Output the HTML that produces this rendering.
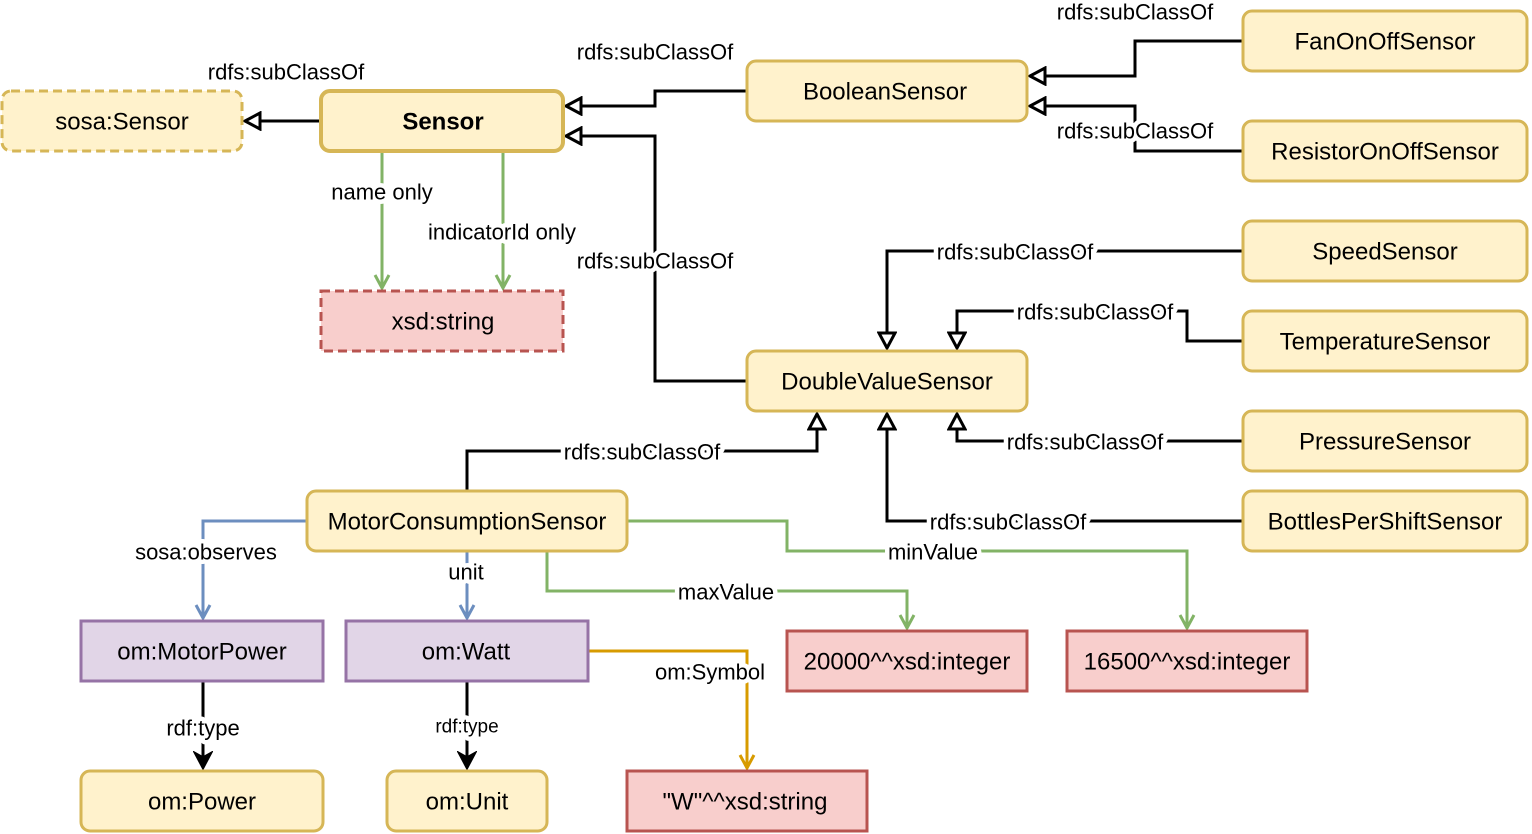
<!DOCTYPE html>
<html><head><meta charset="utf-8"><style>
html,body{margin:0;padding:0;background:#fff;}
svg{display:block;font-family:"Liberation Sans",Arial,sans-serif;}
.n{font-size:24px;text-anchor:middle;dominant-baseline:central;fill:#000;}
.l{font-size:22px;text-anchor:middle;dominant-baseline:central;fill:#000;stroke:#fff;stroke-width:9px;paint-order:stroke;stroke-linejoin:round;}
.y{fill:#fff2cc;stroke:#d6b656;stroke-width:3;}
.p{fill:#f8cecc;stroke:#b85450;stroke-width:3;}
.u{fill:#e1d5e7;stroke:#9673a6;stroke-width:3;}
.k{fill:none;stroke:#000;stroke-width:3;}
.g{fill:none;stroke:#82b366;stroke-width:3;}
.b{fill:none;stroke:#6c8ebf;stroke-width:3;}
.o{fill:none;stroke:#d79b00;stroke-width:3;}
</style></head><body>
<svg width="1532" height="834" viewBox="0 0 1532 834">
<defs>
<marker id="h" markerWidth="20" markerHeight="20" refX="17" refY="10" orient="auto" markerUnits="userSpaceOnUse">
<path d="M2,2 L17,10 L2,18 Z" fill="#fff" stroke="#000" stroke-width="3"/></marker>
<marker id="ag" markerWidth="18" markerHeight="18" refX="15" refY="9" orient="auto" markerUnits="userSpaceOnUse">
<path d="M2,2 L15,9 L2,16" fill="none" stroke="#82b366" stroke-width="3"/></marker>
<marker id="ab" markerWidth="18" markerHeight="18" refX="15" refY="9" orient="auto" markerUnits="userSpaceOnUse">
<path d="M2,2 L15,9 L2,16" fill="none" stroke="#6c8ebf" stroke-width="3"/></marker>
<marker id="ao" markerWidth="18" markerHeight="18" refX="15" refY="9" orient="auto" markerUnits="userSpaceOnUse">
<path d="M2,2 L15,9 L2,16" fill="none" stroke="#d79b00" stroke-width="3"/></marker>
<marker id="ak" markerWidth="20" markerHeight="20" refX="17" refY="10" orient="auto" markerUnits="userSpaceOnUse">
<path d="M1,1 L18,10 L1,19 L6,10 Z" fill="#000" stroke="#000" stroke-width="1.5"/></marker>
</defs>

<path class="k" d="M321,121 L245,121" marker-end="url(#h)"/>
<path class="k" d="M747,91 L655,91 L655,106 L566,106" marker-end="url(#h)"/>
<path class="k" d="M747,381 L655,381 L655,136 L566,136" marker-end="url(#h)"/>
<path class="k" d="M1243,41 L1135,41 L1135,76 L1030,76" marker-end="url(#h)"/>
<path class="k" d="M1243,151 L1135,151 L1135,106 L1030,106" marker-end="url(#h)"/>
<path class="k" d="M1243,251 L887,251 L887,348" marker-end="url(#h)"/>
<path class="k" d="M1243,341 L1187,341 L1187,311 L957,311 L957,348" marker-end="url(#h)"/>
<path class="k" d="M1243,441 L957,441 L957,414" marker-end="url(#h)"/>
<path class="k" d="M1243,521 L887,521 L887,414" marker-end="url(#h)"/>
<path class="k" d="M467,491 L467,451 L817,451 L817,414" marker-end="url(#h)"/>
<path class="g" d="M382,151 L382,288" marker-end="url(#ag)"/>
<path class="g" d="M503,151 L503,288" marker-end="url(#ag)"/>
<path class="b" d="M307,521 L203,521 L203,618" marker-end="url(#ab)"/>
<path class="b" d="M467,551 L467,618" marker-end="url(#ab)"/>
<path class="g" d="M547,551 L547,591 L907,591 L907,628" marker-end="url(#ag)"/>
<path class="g" d="M627,521 L787,521 L787,551 L1187,551 L1187,628" marker-end="url(#ag)"/>
<path class="o" d="M588,651 L747,651 L747,768" marker-end="url(#ao)"/>
<path class="k" d="M203,681 L203,768" marker-end="url(#ak)"/>
<path class="k" d="M467,681 L467,768" marker-end="url(#ak)"/>

<text class="l" x="286" y="72">rdfs:subClassOf</text>
<text class="l" x="655" y="52">rdfs:subClassOf</text>
<text class="l" x="655" y="261">rdfs:subClassOf</text>
<text class="l" x="1135" y="12">rdfs:subClassOf</text>
<text class="l" x="1135" y="131">rdfs:subClassOf</text>
<text class="l" x="1015" y="252">rdfs:subClassOf</text>
<text class="l" x="1095" y="312">rdfs:subClassOf</text>
<text class="l" x="1085" y="442">rdfs:subClassOf</text>
<text class="l" x="1008" y="522">rdfs:subClassOf</text>
<text class="l" x="642" y="452">rdfs:subClassOf</text>
<text class="l" x="382" y="192">name only</text>
<text class="l" x="502" y="232">indicatorId only</text>
<text class="l" x="206" y="552">sosa:observes</text>
<text class="l" x="466" y="572">unit</text>
<text class="l" x="726" y="592">maxValue</text>
<text class="l" x="933" y="552">minValue</text>
<text class="l" x="710" y="672">om:Symbol</text>
<text class="l" x="203" y="728">rdf:type</text>
<text class="l" x="467" y="727" style="font-size:19px">rdf:type</text>

<rect class="y" x="2" y="91" width="240" height="60" rx="9" stroke-dasharray="9,5"/><text class="n" x="122" y="122">sosa:Sensor</text>
<rect class="y" x="321" y="91" width="242" height="60" rx="9" style="stroke-width:4"/><text class="n" x="443" y="122" font-weight="bold">Sensor</text>
<rect class="y" x="747" y="61" width="280" height="60" rx="9"/><text class="n" x="885" y="92">BooleanSensor</text>
<rect class="y" x="1243" y="11" width="284" height="60" rx="9"/><text class="n" x="1385" y="42">FanOnOffSensor</text>
<rect class="y" x="1243" y="121" width="284" height="60" rx="9"/><text class="n" x="1385" y="152">ResistorOnOffSensor</text>
<rect class="y" x="1243" y="221" width="284" height="60" rx="9"/><text class="n" x="1385" y="252">SpeedSensor</text>
<rect class="y" x="1243" y="311" width="284" height="60" rx="9"/><text class="n" x="1385" y="342">TemperatureSensor</text>
<rect class="y" x="1243" y="411" width="284" height="60" rx="9"/><text class="n" x="1385" y="442">PressureSensor</text>
<rect class="y" x="1243" y="491" width="284" height="60" rx="9"/><text class="n" x="1385" y="522">BottlesPerShiftSensor</text>
<rect class="y" x="747" y="351" width="280" height="60" rx="9"/><text class="n" x="887" y="382">DoubleValueSensor</text>
<rect class="p" x="321" y="291" width="242" height="60" stroke-dasharray="9,5"/><text class="n" x="443" y="322">xsd:string</text>
<rect class="y" x="307" y="491" width="320" height="60" rx="9"/><text class="n" x="467" y="522">MotorConsumptionSensor</text>
<rect class="u" x="81" y="621" width="242" height="60"/><text class="n" x="202" y="652">om:MotorPower</text>
<rect class="u" x="346" y="621" width="242" height="60"/><text class="n" x="466" y="652">om:Watt</text>
<rect class="p" x="787" y="631" width="240" height="60"/><text class="n" x="907" y="662">20000^^xsd:integer</text>
<rect class="p" x="1067" y="631" width="240" height="60"/><text class="n" x="1187" y="662">16500^^xsd:integer</text>
<rect class="y" x="81" y="771" width="242" height="60" rx="9"/><text class="n" x="202" y="802">om:Power</text>
<rect class="y" x="387" y="771" width="160" height="60" rx="9"/><text class="n" x="467" y="802">om:Unit</text>
<rect class="p" x="627" y="771" width="240" height="60"/><text class="n" x="745" y="802">"W"^^xsd:string</text>
</svg>
</body></html>
